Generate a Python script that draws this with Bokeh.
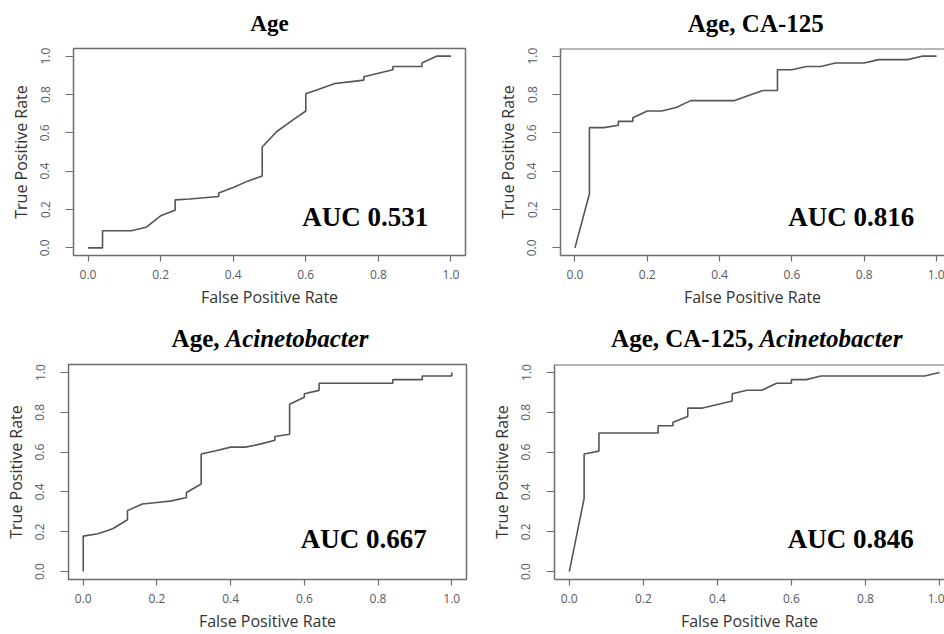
from bokeh.plotting import figure
from bokeh.layouts import row, column
from bokeh.models import Label, Span, Range1d, FixedTicker, PrintfTickFormatter, ColumnDataSource
from bokeh.core.properties import value
from bokeh.embed import file_html
from bokeh.resources import INLINE

# ---------------- data ----------------
tick_values = [0.0, 0.2, 0.4, 0.6, 0.8, 1.0]
x_axis_label = "False Positive Rate"
y_axis_label = "True Positive Rate"

auc_values = [0.531, 0.816, 0.667, 0.846]

fpr_age = [0.0, 0.04, 0.04, 0.12, 0.16, 0.20, 0.24, 0.24, 0.28, 0.36, 0.36, 0.40, 0.44, 0.48, 0.48,
           0.52, 0.56, 0.60, 0.60, 0.64, 0.68, 0.72, 0.76, 0.76, 0.80, 0.84, 0.84, 0.92, 0.92, 0.96, 1.0]
tpr_age = [0.0, 0.0, 0.089, 0.089, 0.107, 0.167, 0.196, 0.250, 0.255, 0.268, 0.286, 0.315, 0.348, 0.375, 0.526,
           0.607, 0.661, 0.714, 0.804, 0.830, 0.857, 0.866, 0.875, 0.893, 0.911, 0.929, 0.946, 0.946, 0.964, 1.0, 1.0]

fpr_age_ca125 = [0.0, 0.04, 0.04, 0.08, 0.12, 0.12, 0.16, 0.16, 0.20, 0.24, 0.28, 0.32, 0.44, 0.48, 0.52,
                 0.56, 0.56, 0.60, 0.64, 0.68, 0.72, 0.80, 0.84, 0.92, 0.96, 1.0]
tpr_age_ca125 = [0.0, 0.282, 0.627, 0.627, 0.640, 0.660, 0.660, 0.679, 0.714, 0.714, 0.732, 0.768, 0.768, 0.795, 0.821,
                 0.821, 0.929, 0.929, 0.946, 0.946, 0.964, 0.964, 0.982, 0.982, 1.0, 1.0]

fpr_age_acin = [0.0, 0.0, 0.04, 0.08, 0.12, 0.12, 0.16, 0.20, 0.24, 0.28, 0.28, 0.32, 0.32, 0.36, 0.40, 0.44,
                0.48, 0.52, 0.52, 0.56, 0.56, 0.60, 0.60, 0.64, 0.64, 0.84, 0.84, 0.92, 0.92, 1.0, 1.0]
tpr_age_acin = [0.0, 0.178, 0.190, 0.215, 0.260, 0.306, 0.339, 0.347, 0.355, 0.372, 0.397, 0.440, 0.590, 0.607, 0.625, 0.625,
                0.640, 0.660, 0.678, 0.690, 0.840, 0.875, 0.893, 0.910, 0.946, 0.946, 0.964, 0.964, 0.982, 0.982, 1.0]

fpr_all = [0.0, 0.04, 0.04, 0.08, 0.08, 0.24, 0.24, 0.28, 0.28, 0.32, 0.32, 0.36, 0.40, 0.44, 0.44,
           0.48, 0.52, 0.56, 0.60, 0.60, 0.64, 0.68, 0.96, 1.0]
tpr_all = [0.0, 0.367, 0.590, 0.605, 0.696, 0.696, 0.732, 0.732, 0.750, 0.779, 0.821, 0.821, 0.839, 0.857, 0.893,
           0.911, 0.911, 0.946, 0.946, 0.964, 0.964, 0.982, 0.982, 1.0]

# title pieces: (text, font style, align, x offset in px from centre)
title_age = [("Age", "bold", "center", 0)]
title_age_ca125 = [("Age, CA-125", "bold", "center", 0)]
title_age_acin = [("Age,", "bold", "right", -48), ("Acinetobacter", "bold italic", "left", -42)]
title_all = [("Age, CA-125,", "bold", "right", -1), ("Acinetobacter", "bold italic", "left", 5)]

SERIF = "Liberation Serif"
SANS = "Open Sans"
LINE = "#555555"
BOX = "#6e6e6e"
TICK_TEXT = "#555a66"


def title_fig(parts, size, width, height, mbl, mbr, x_end, baseline_y):
    t = figure(width=width, height=height, output_backend="svg", toolbar_location=None,
               x_range=Range1d(-0.04, x_end), y_range=Range1d(0, 1),
               x_axis_location=None, y_axis_location=None,
               min_border_left=mbl, min_border_right=mbr, min_border_top=0, min_border_bottom=0,
               outline_line_color=None, background_fill_color="white", border_fill_color="white")
    t.xgrid.visible = False
    t.ygrid.visible = False
    for text, style, align, xoff in parts:
        t.text(x=[0.5], y=[baseline_y], text=[text], x_offset=xoff,
               text_font=value(SERIF), text_font_style=style, text_font_size=size,
               text_color="black", text_align=align, text_baseline="alphabetic")
    return t


def panel(fpr, tpr, auc, width, height, mbl, mbr, mbt, mbb, x_end, boxed):
    p = figure(width=width, height=height, output_backend="svg", toolbar_location=None,
               x_range=Range1d(-0.04, x_end), y_range=Range1d(-0.04, 1.04),
               min_border_left=mbl, min_border_right=mbr, min_border_top=mbt, min_border_bottom=mbb,
               background_fill_color="white", border_fill_color="white")
    p.xgrid.visible = False
    p.ygrid.visible = False
    if boxed:
        p.outline_line_color = BOX
        p.outline_line_width = 1.5
        p.xaxis.axis_line_color = None
        p.yaxis.axis_line_color = None
    else:
        p.outline_line_color = None
        p.xaxis.axis_line_color = BOX
        p.yaxis.axis_line_color = BOX
        p.xaxis.axis_line_width = 1.5
        p.yaxis.axis_line_width = 1.5
        p.add_layout(Span(location=1.04, dimension="width", line_color=BOX, line_width=2))

    for ax in (p.xaxis[0], p.yaxis[0]):
        ax.ticker = FixedTicker(ticks=tick_values)
        ax.formatter = PrintfTickFormatter(format="%.1f")
        ax.major_tick_in = 0
        ax.major_tick_line_color = BOX
        ax.major_tick_line_width = 1.2
        ax.minor_tick_in = 0
        ax.minor_tick_out = 0
        ax.major_label_text_font = SANS
        ax.major_label_text_font_size = "12px"
        ax.major_label_text_color = TICK_TEXT
        ax.axis_label_text_font = SANS
        ax.axis_label_text_font_size = "16px"
        ax.axis_label_text_font_style = "normal"
        ax.axis_label_text_color = "#333333"

    p.xaxis.axis_label = x_axis_label
    p.yaxis.axis_label = y_axis_label
    p.xaxis.major_tick_out = 6
    p.yaxis.major_tick_out = 8
    p.xaxis.major_label_standoff = 8
    p.xaxis.axis_label_standoff = 4
    p.yaxis.major_label_orientation = "vertical"
    p.yaxis.major_label_standoff = 16
    p.yaxis.axis_label_standoff = 6

    src = ColumnDataSource(dict(fpr=fpr, tpr=tpr))
    p.line("fpr", "tpr", source=src, line_color=LINE, line_width=1.6)

    p.add_layout(Label(x=0.59, y=0.163, text=f"AUC {auc:.3f}", text_font=SERIF,
                       text_font_style="bold", text_font_size="27px", text_color="black",
                       text_align="left", text_baseline="alphabetic"))
    return p


# top row: title strip 46 px + panel 264 px ; bottom row: title strip 52 px + panel 272 px
t1 = title_fig(title_age, "23px", 470, 46, 73, 5, 1.04, 0.51)
t2 = title_fig(title_age_ca125, "25px", 474, 46, 90, 0, 1.022, 0.51)
p1 = panel(fpr_age, tpr_age, auc_values[0], 470, 264, 73, 5, 2, 54, 1.04, True)
p2 = panel(fpr_age_ca125, tpr_age_ca125, auc_values[1], 474, 264, 90, 0, 2, 54, 1.022, False)

t3 = title_fig(title_age_acin, "25px", 470, 52, 68, 4, 1.04, 0.46)
t4 = title_fig(title_all, "25px", 474, 52, 84, 0, 1.0135, 0.46)
p3 = panel(fpr_age_acin, tpr_age_acin, auc_values[2], 470, 272, 68, 4, 2, 54, 1.04, True)
p4 = panel(fpr_all, tpr_all, auc_values[3], 474, 272, 84, 0, 2, 54, 1.0135, False)

layout = column(row(t1, t2), row(p1, p2), row(t3, t4), row(p3, p4))

open("out.html", "w").write(file_html(layout, INLINE))
